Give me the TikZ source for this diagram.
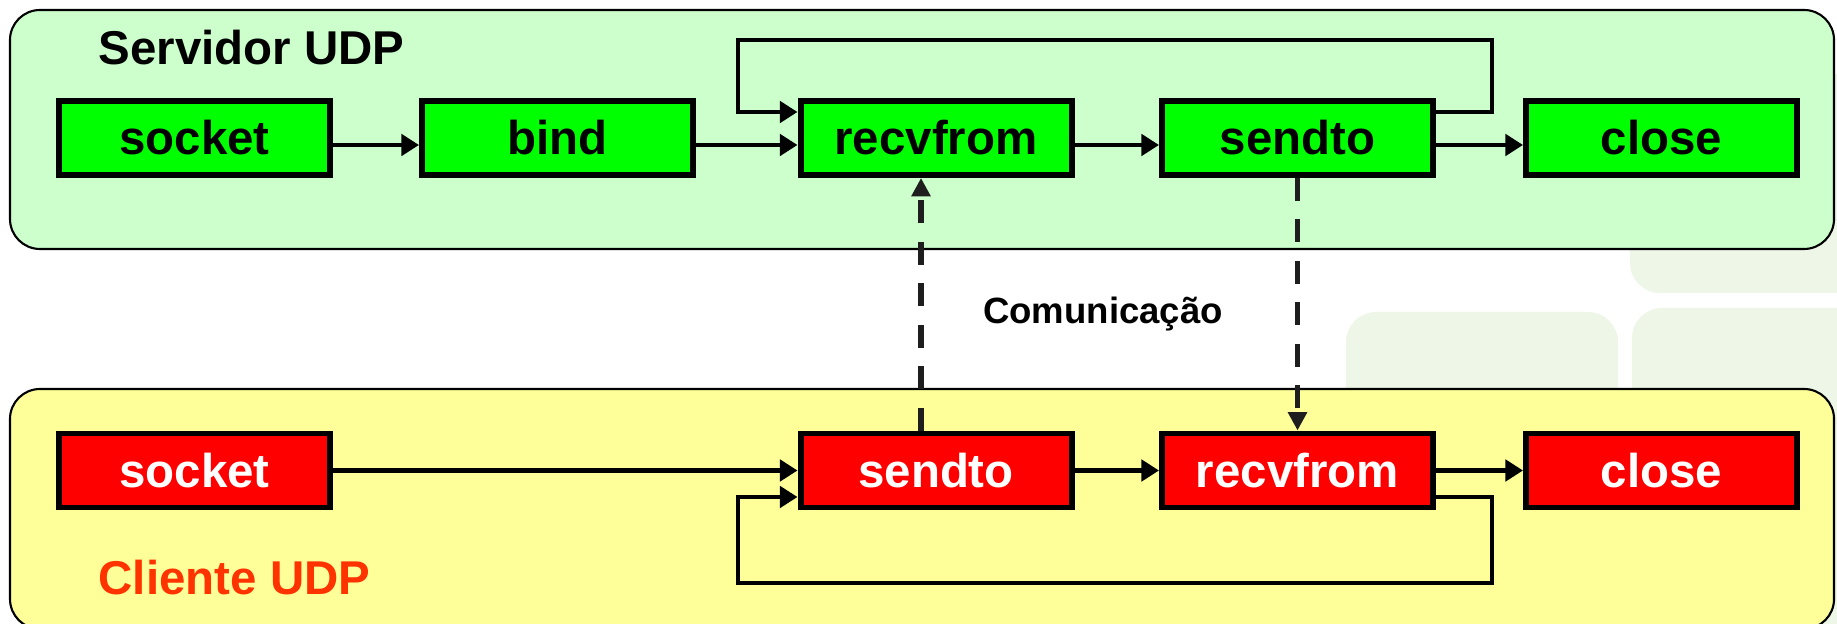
\documentclass[tikz,border=0pt]{standalone}
\usepackage{fontspec}
\setmainfont{Liberation Sans}
\usetikzlibrary{arrows.meta,positioning}

\definecolor{srvbg}{RGB}{204,255,204}
\definecolor{clibg}{RGB}{255,255,153}
\definecolor{srvfill}{RGB}{0,255,0}
\definecolor{clifill}{RGB}{255,0,0}
\definecolor{clitext}{RGB}{255,51,0}
\definecolor{msggray}{RGB}{30,30,30}
\definecolor{faint}{RGB}{238,246,231}

\begin{document}
\begin{tikzpicture}[>={Triangle[length=5pt,width=6pt]},
	call/.style={draw=black, line width=1.7pt, minimum width=2.71cm, minimum height=0.74cm, inner sep=0pt, font=\fontsize{13.5}{16}\selectfont\bfseries},
	srv/.style={call, fill=srvfill},
	cli/.style={call, fill=clifill, text=white},
	flow/.style={->, line width=1.4pt},
	msg/.style={-{Triangle[length=5.2pt,width=5.2pt]}, line width=1.5pt, draw=msggray, dash pattern=on 6.5pt off 5.3pt},
	panel/.style={draw=black, line width=0.6pt, rounded corners=0.3cm}]
	\useasboundingbox (0,0) rectangle (18.37,6.24);
	\clip (0,0) rectangle (18.37,6.24);
	% light tiles in the background
	\fill[faint, rounded corners=0.3cm] (16.30,3.31) rectangle (19,5.5);
	\fill[faint, rounded corners=0.3cm] (13.46,-1) rectangle (16.18,3.12);
	\fill[faint, rounded corners=0.3cm] (16.32,-1) rectangle (19,3.16);
	% the two panels
	\draw[panel, fill=srvbg] (0.10,3.75) rectangle (18.34,6.14);
	\draw[panel, fill=clibg] (0.10,-0.05) rectangle (18.34,2.35);
	\node[anchor=west, inner sep=0pt, font=\fontsize{13.5}{16}\selectfont\bfseries] (srvtitle) at (0.98,5.76) {Servidor UDP};
	\node[anchor=west, inner sep=0pt, text=clitext, font=\fontsize{13.5}{16}\selectfont\bfseries] (clititle) at (0.98,0.46) {Cliente UDP};
	% server calls
	\node[srv] (ssocket) at (1.945,4.86) {socket};
	\node[srv] (sbind) at (5.575,4.86) {bind};
	\node[srv] (srecv) at (9.36,4.86) {recvfrom};
	\node[srv] (ssend) at (12.975,4.86) {sendto};
	\node[srv] (sclose) at (16.615,4.86) {close};
	% client calls
	\node[cli] (csocket) at (1.945,1.535) {socket};
	\node[cli] (csend) at (9.36,1.535) {sendto};
	\node[cli] (crecv) at (12.975,1.535) {recvfrom};
	\node[cli] (cclose) at (16.615,1.535) {close};
	% server flow
	\draw[flow] ([yshift=-0.07cm]ssocket.east)--([yshift=-0.07cm]sbind.west);
	\draw[flow] ([yshift=-0.07cm]sbind.east)--([yshift=-0.07cm]srecv.west);
	\draw[flow] ([yshift=-0.07cm]srecv.east)--([yshift=-0.07cm]ssend.west);
	\draw[flow] ([yshift=-0.07cm]ssend.east)--([yshift=-0.07cm]sclose.west);
	\draw[flow] ([yshift=0.26cm]ssend.east) -| (14.92,5.84) -| (7.38,5.12)--([yshift=0.26cm]srecv.west);
	% client flow
	\draw[flow] (csocket.east)--(csend.west);
	\draw[flow] (csend.east)--(crecv.west);
	\draw[flow] (crecv.east)--(cclose.west);
	\draw[flow] ([yshift=-0.265cm]crecv.east) -| (14.92,0.41) -| (7.38,1.27)--([yshift=-0.265cm]csend.west);
	% messages between the two sides
	\draw[msg] ([xshift=-0.15cm]csend.north)--([xshift=-0.15cm]srecv.south);
	\draw[msg] (ssend.south)--(crecv.north);
	\node[anchor=base, inner sep=0pt, font=\fontsize{10.4}{12}\selectfont\bfseries] (comm) at (11.03,3.00) {Comunicação};
\end{tikzpicture}
\end{document}
